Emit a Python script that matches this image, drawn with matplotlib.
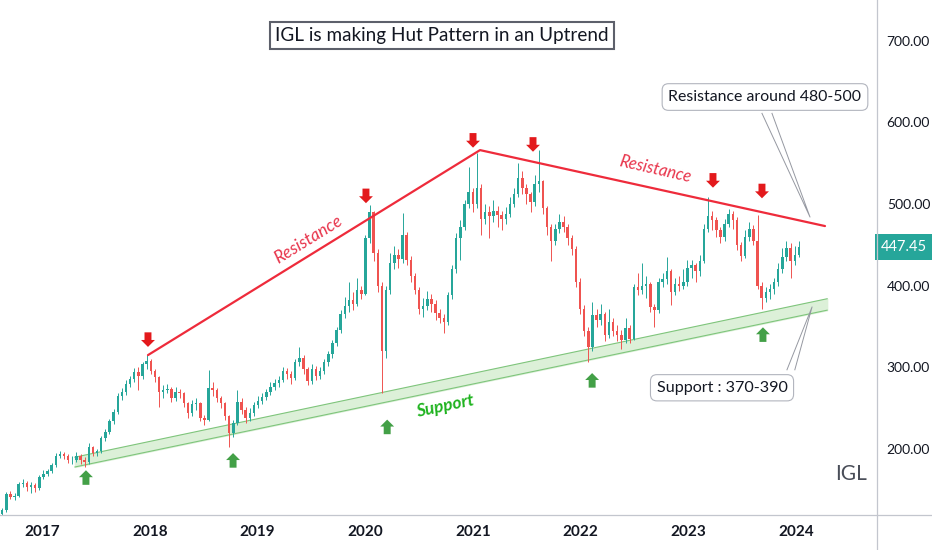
import numpy as np
import matplotlib
matplotlib.use("Agg")
import matplotlib.pyplot as plt
from matplotlib.lines import Line2D
import matplotlib.transforms as mtransforms

plt.rcParams['font.family'] = ['Lato', 'DejaVu Sans']

# ---- data (biweekly candles, IGL) ----
first_open = 120
closes = [125, 145, 141, 143, 157, 158, 154, 156, 152, 166,
          170, 173, 180, 192, 194, 192, 186, 187, 192, 187,
          184, 202, 195, 197, 213, 221, 234, 245, 265, 270,
          280, 286, 294, 290, 304, 308, 296, 288, 270, 272,
          274, 262, 270, 268, 256, 244, 255, 256, 238, 236,
          275, 272, 262, 256, 240, 220, 232, 258, 248, 238,
          244, 254, 259, 264, 270, 276, 281, 285, 296, 292,
          287, 306, 312, 298, 283, 298, 290, 296, 306, 316,
          330, 346, 365, 375, 382, 378, 395, 390, 458, 490,
          440, 400, 320, 395, 428, 437, 433, 462, 432, 412,
          395, 372, 375, 384, 378, 366, 360, 355, 388, 420,
          458, 472, 500, 515, 500, 520, 482, 490, 485, 492,
          486, 482, 488, 500, 512, 532, 520, 512, 502, 525,
          528, 495, 472, 455, 470, 478, 472, 458, 445, 405,
          372, 345, 325, 364, 358, 365, 340, 356, 345, 340,
          334, 348, 335, 398, 395, 400, 402, 374, 370, 405,
          408, 418, 392, 402, 400, 405, 422, 425, 418, 430,
          470, 485, 480, 468, 460, 476, 488, 480, 450, 436,
          460, 470, 455, 400, 385, 392, 396, 404, 420, 435,
          446, 430, 438, 447.45]
highs = [128, 147, 148, 146, 160, 163, 161, 160, 158, 168,
         174, 176, 183, 195, 197, 196, 194, 191, 196, 194,
         190, 207, 204, 200, 216, 225, 237, 249, 268, 275,
         284, 290, 299, 300, 307, 315, 310, 298, 290, 278,
         280, 276, 276, 274, 270, 258, 260, 262, 258, 242,
         297, 282, 275, 265, 258, 242, 236, 272, 262, 252,
         250, 258, 265, 268, 274, 282, 286, 290, 300, 299,
         295, 310, 325, 315, 300, 304, 302, 300, 310, 320,
         334, 350, 370, 386, 405, 392, 410, 400, 462, 499,
         492, 445, 405, 400, 440, 448, 445, 489, 466, 436,
         416, 398, 385, 394, 390, 382, 372, 365, 392, 425,
         465, 480, 505, 545, 520, 562, 524, 500, 498, 505,
         498, 492, 496, 508, 520, 550, 540, 525, 515, 535,
         566, 530, 498, 476, 475, 488, 485, 476, 462, 448,
         410, 376, 350, 380, 372, 378, 368, 372, 360, 352,
         346, 360, 352, 402, 415, 428, 412, 405, 378, 410,
         415, 435, 420, 410, 412, 420, 432, 432, 428, 438,
         475, 509, 492, 484, 472, 482, 494, 492, 484, 454,
         468, 478, 474, 486, 404, 398, 402, 410, 428, 446,
         455, 452, 448, 455]
lows = [118, 123, 139, 138, 141, 153, 148, 146, 147, 150,
        163, 167, 171, 178, 189, 188, 183, 182, 184, 182,
        178, 182, 192, 191, 195, 210, 218, 231, 243, 260,
        266, 276, 282, 272, 286, 298, 292, 282, 252, 262,
        268, 258, 259, 262, 252, 238, 240, 248, 234, 230,
        234, 265, 258, 250, 235, 202, 215, 230, 243, 232,
        234, 240, 250, 255, 260, 266, 272, 276, 282, 286,
        280, 285, 302, 292, 278, 280, 284, 286, 292, 302,
        312, 326, 342, 360, 368, 370, 375, 384, 388, 452,
        430, 392, 269, 312, 390, 420, 422, 428, 425, 405,
        390, 365, 362, 370, 368, 358, 354, 342, 352, 384,
        415, 432, 468, 495, 490, 495, 462, 476, 458, 478,
        472, 468, 475, 484, 496, 508, 512, 500, 490, 498,
        515, 488, 462, 430, 450, 465, 466, 450, 438, 398,
        365, 338, 306, 320, 350, 352, 332, 336, 338, 332,
        322, 330, 330, 333, 388, 390, 385, 368, 350, 366,
        398, 402, 376, 388, 394, 396, 400, 410, 405, 412,
        428, 466, 468, 460, 452, 455, 472, 470, 444, 430,
        434, 455, 450, 396, 372, 380, 384, 390, 400, 415,
        430, 410, 425, 435]

last_price = 447.45
year_ticks = [2017, 2018, 2019, 2020, 2021, 2022, 2023, 2024]
price_ticks = [200, 300, 400, 500, 600, 700]

# trend lines (decimal year, price)
res_t = [2017.984, 2021.067, 2024.270]
res_v = [315, 566, 473]
sup_t = [2017.306, 2024.290]
sup_top = [190, 384]
sup_bot = [178, 370]

# arrows: tip positions
red_t = [2017.984, 2020.008, 2021.002, 2021.559, 2023.230, 2023.685]
red_v = [325, 501, 569, 564, 520, 507]
green_t = [2017.408, 2018.774, 2020.205, 2022.108, 2023.694]
green_v = [174, 195, 236, 293, 349]

# ---- figure ----
fig = plt.figure(figsize=(9.32, 5.5), dpi=100)
ax = fig.add_axes([0, 1 - 515 / 550, 877 / 932, 515 / 550])

n = len(closes)
start = 2016.63
step = 14 / 365.25
t = start + np.arange(n) * step
c = np.array(closes, dtype=float)
o = np.concatenate([[first_open], c[:-1]])
h = np.maximum(np.array(highs, dtype=float), np.maximum(o, c))
l = np.minimum(np.array(lows, dtype=float), np.minimum(o, c))

up = c >= o
col = np.where(up, '#26a69a', '#ef5350')
ax.vlines(t, l, h, colors=col, linewidth=0.7, zorder=2)
body_h = np.maximum(np.abs(c - o), 0.8)
ax.bar(t, body_h, bottom=np.minimum(o, c), width=step * 0.6,
       color=col, linewidth=0, zorder=3)

# support band
ax.fill_between(sup_t, sup_bot, sup_top, color='#dcf0d8', zorder=1)
ax.plot(sup_t, sup_top, color='#7fc57c', lw=0.8, zorder=1.5)
ax.plot(sup_t, sup_bot, color='#7fc57c', lw=0.8, zorder=1.5)

# resistance lines
ax.plot(res_t, res_v, color='#ee2b3b', lw=1.6, zorder=4, solid_capstyle='round')

# arrows
astyle = 'simple,head_length=0.5,head_width=1.0,tail_width=0.5'
for tt, vv in zip(red_t, red_v):
    ax.annotate('', xy=(tt, vv), xytext=(0, 10.5), textcoords='offset points',
                arrowprops=dict(arrowstyle=astyle, fc='#e3191c', ec='none',
                                shrinkA=0, shrinkB=0), zorder=5)
for tt, vv in zip(green_t, green_v):
    ax.annotate('', xy=(tt, vv), xytext=(0, -10.5), textcoords='offset points',
                arrowprops=dict(arrowstyle=astyle, fc='#43a047', ec='none',
                                shrinkA=0, shrinkB=0), zorder=5)

# labels on the lines
ax.text(2019.47, 456, 'Resistance', color='#e8334a', fontsize=12.5, rotation=31.7,
        ha='center', va='center', fontstyle='italic', zorder=6)
ax.text(2022.69, 542, 'Resistance', color='#e8334a', fontsize=12, rotation=-12.9,
        ha='center', va='center', fontstyle='italic', zorder=6)
ax.text(2020.74, 253, 'Support', color='#1fb31f', fontsize=12.5, rotation=11.9,
        ha='center', va='center', fontstyle='italic', fontweight='bold', zorder=6)

# title box
ax.text(2020.714, 706, 'IGL is making Hut Pattern in an Uptrend', fontsize=13.6,
        color='#131722', ha='center', va='center', zorder=7,
        bbox=dict(boxstyle='square,pad=0.27', fc='white', ec='#5d606b', lw=1.5))

# callouts
ax.plot([2023.685, 2024.131, 2023.778], [611, 484, 611], color='#9598a1', lw=0.7, zorder=6)
ax.text(2023.713, 631, 'Resistance around 480-500', fontsize=11.4, color='#131722',
        ha='center', va='center', zorder=7,
        bbox=dict(boxstyle='round,pad=0.4,rounding_size=0.4', fc='white', ec='#b2b5be', lw=0.8))
ax.plot([2023.917, 2024.150, 2023.990], [297, 374, 297], color='#9598a1', lw=0.7, zorder=6)
ax.text(2023.314, 275, 'Support : 370-390', fontsize=11.6, color='#131722',
        ha='center', va='center', zorder=7,
        bbox=dict(boxstyle='round,pad=0.38,rounding_size=0.4', fc='white', ec='#b2b5be', lw=0.8))

ax.text(2024.512, 169, 'IGL', fontsize=15, color='#4a4e59', ha='center', va='center')

# axes styling
ax.set_xlim(2016.61, 2024.753)
ax.set_ylim(119.2, 749.8)
for s in ax.spines.values():
    s.set_visible(False)
ax.yaxis.tick_right()
ax.set_yticks(price_ticks)
ax.set_yticklabels(['%.2f' % v for v in price_ticks])
ax.set_xticks(year_ticks)
ax.set_xticklabels([str(y) for y in year_ticks], fontweight='bold')
ax.tick_params(axis='y', length=0, pad=7, labelsize=10, labelcolor='#131722')
ax.tick_params(axis='x', length=0, pad=7, labelsize=11, labelcolor='#131722')

# price label on axis
trans = mtransforms.blended_transform_factory(ax.transAxes, ax.transData)
ax.text(1.0 + 27 / 877, last_price, '447.45', transform=trans, fontsize=10.5, color='white',
        ha='center', va='center', clip_on=False, zorder=8,
        bbox=dict(boxstyle='square,pad=0.4', fc='#26a69a', ec='none'))

# chart frame lines
fig.add_artist(Line2D([877 / 932, 877 / 932], [0, 1], color='#c3c6ce', lw=0.9))
fig.add_artist(Line2D([0, 1], [1 - 515 / 550, 1 - 515 / 550], color='#c3c6ce', lw=0.9))

fig.savefig('out.png', dpi=100, facecolor='white')
